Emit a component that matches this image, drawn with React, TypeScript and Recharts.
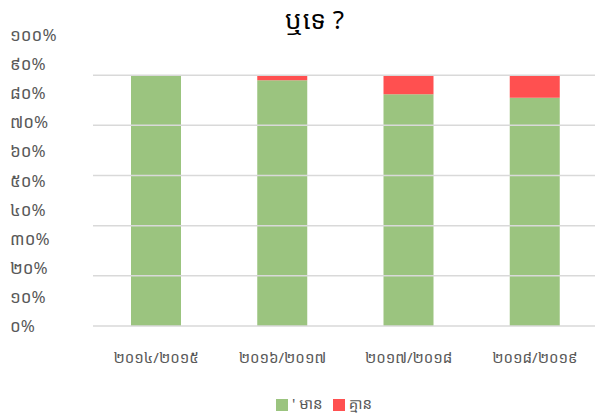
import { Bar, ComposedChart, Legend, Line, ReferenceLine, XAxis, YAxis } from "recharts";

const GREEN = "#9BC47F";
const RED = "#FF5050";
const GRID = "#D9D9D9";
const TEXT = "#595959";
const FONT = "'Noto Sans Khmer', 'Khmer OS', 'Noto Sans', sans-serif";

const categories = ["២០១៤/២០១៥", "២០១៦/២០១៧", "២០១៧/២០១៨", "២០១៨/២០១៩"];
const hasValues = [100, 98, 92.4, 91];
const noneValues = [0, 2, 7.6, 9];
const yLabelTicks = [0, 10, 20, 30, 40, 50, 60, 70, 80, 90, 100];
const yLabels = ["០%", "១០%", "២០%", "៣០%", "៤០%", "៥០%", "៦០%", "៧០%", "៨០%", "៩០%", "១០០%"];
const gridTicks = [0, 20, 40, 60, 80, 100];

const data = categories.map((name, i) => ({
  name,
  has: hasValues[i],
  none: noneValues[i],
}));

function YLabelTick({ x, y, payload }: any) {
  const i = yLabelTicks.indexOf(payload.value);
  return (
    <text x={x - 75} y={y} dy={6} textAnchor="start" fill={TEXT} fontSize={17} fontFamily={FONT}>
      {yLabels[i]}
    </text>
  );
}

export default function App() {
  return (
    <div style={{ position: "absolute", left: 0, top: 0, width: 595, height: 417, background: "#fff", overflow: "hidden" }}>
      <div
        style={{
          position: "absolute",
          left: 0,
          top: 1,
          width: 595,
          textAlign: "center",
          fontSize: 26,
          color: "#000",
          fontFamily: FONT,
          paddingLeft: 34,
          boxSizing: "border-box",
        }}
      >
        ឬទេ ?
      </div>
      <ComposedChart
        width={598}
        height={417}
        data={data}
        margin={{ top: 35, right: 0, bottom: 4, left: 0 }}
        barSize={50}
      >
        <XAxis
          dataKey="name"
          axisLine={false}
          tickLine={false}
          tickMargin={20}
          height={65}
          tick={{ fill: TEXT, fontSize: 15, fontFamily: FONT }}
        />
        <YAxis
          yAxisId="labels"
          width={93}
          domain={[0, 100]}
          ticks={yLabelTicks}
          axisLine={false}
          tickLine={false}
          tick={(p: any) => <YLabelTick {...p} />}
        />
        <YAxis yAxisId="v" hide domain={[0, 116]} ticks={gridTicks} />
        {gridTicks.map((t) => (
          <ReferenceLine key={t} yAxisId="v" y={t} stroke={GRID} strokeWidth={1.5} />
        ))}
        <Legend
          verticalAlign="bottom"
          iconType="square"
          iconSize={12}
          wrapperStyle={{ fontSize: 15, fontFamily: FONT, color: TEXT, paddingLeft: 30, paddingTop: 2 }}
          formatter={(v) => <span style={{ color: TEXT }}>{v}</span>}
        />
        <Bar yAxisId="v" dataKey="has" name="' មាន" stackId="a" fill={GREEN} isAnimationActive={false} />
        <Bar yAxisId="v" dataKey="none" name="គ្មាន" stackId="a" fill={RED} isAnimationActive={false} />
        <Line
          yAxisId="labels"
          dataKey="has"
          stroke="none"
          dot={false}
          activeDot={false}
          legendType="none"
          isAnimationActive={false}
        />
      </ComposedChart>
    </div>
  );
}
